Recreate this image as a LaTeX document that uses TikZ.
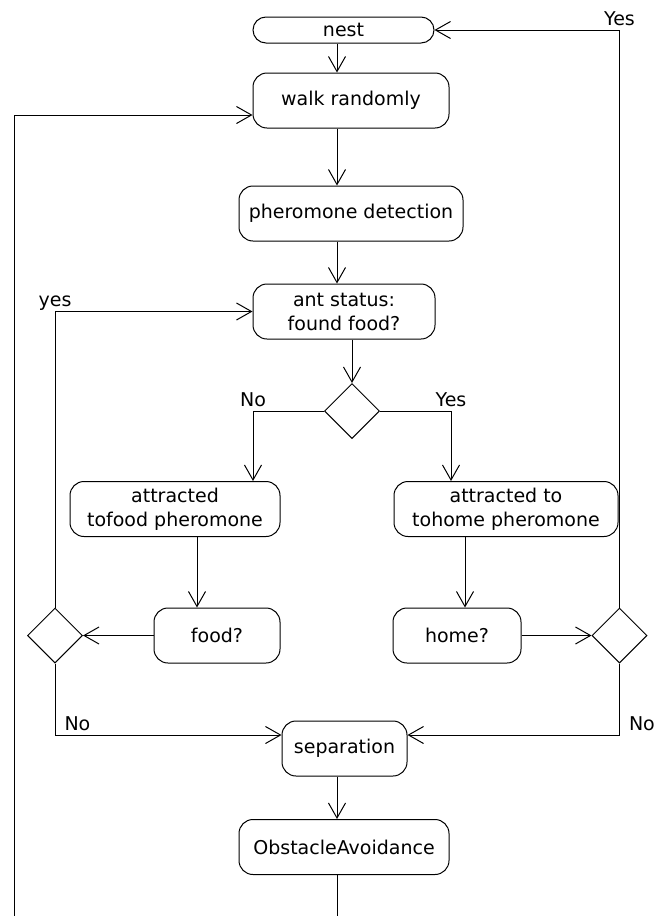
\documentclass[tikz,border=0pt]{standalone}
\usepackage{fontspec}
\setmainfont{DejaVu Sans}
\usetikzlibrary{arrows.meta, shapes.geometric}
\tikzset{
	>={Straight Barb[length=15pt,width=17pt]}, % open v-shaped heads
	act/.style={draw, rounded corners=14pt, minimum height=55pt, inner sep=0pt, align=center, font=\fontsize{19}{24}\selectfont}, % activity boxes
	dec/.style={draw, diamond, minimum width=55pt, minimum height=55pt, inner sep=0pt}, % decision points
	guard/.style={font=\fontsize{19}{22}\selectfont, inner sep=0pt, anchor=base, yshift=5pt}, % labels on the branches
}
\begin{document}
\begin{tikzpicture}[x=1pt, y=-1pt, line width=1pt]
		\useasboundingbox (0,0) rectangle (654,916);

		\node[act, rounded corners=13pt, minimum width=181pt, minimum height=26pt](nest) at (343.5,30){nest};
		\node[act, minimum width=196pt](walk) at (351,100.5){walk randomly};
		\node[act, minimum width=224pt](pher) at (351,213.5){pheromone detection};
		\node[act, minimum width=182pt](ant) at (344,311.5){ant status:\\found food?};
		\node[dec](dtop) at (352,411){};
		\node[act, minimum width=210pt](tofood) at (175,509){attracted\\tofood pheromone};
		\node[act, minimum width=224pt](tohome) at (506,509){attracted to\\tohome pheromone};
		\node[act, minimum width=126pt](food) at (217,635.5){food?};
		\node[act, minimum width=128pt](home) at (457,635.5){home?};
		\node[dec](dleft) at (55,635.5){};
		\node[dec](dright) at (619.5,635.5){};
		\node[act, minimum width=125pt](sep) at (344.5,748.5){separation};
		\node[act, minimum width=210pt](obst) at (344,847){ObstacleAvoidance};

		\coordinate (mid) at (337,0);
		\coordinate (bl) at (14,916);
		\coordinate (bm) at (337,916);

		\foreach \a/\b in {nest/walk, walk/pher, pher/ant, sep/obst}
		{
			\draw[->] (\a.south -| mid) -- (\b.north -| mid);
		}

		\draw[->] (ant.south -| dtop) -- (dtop.north);
		\draw[->] (dtop.west) -| ([xshift=78pt]tofood.north) node[guard, pos=0.5](lno){No};
		\draw[->] (dtop.east) -| ([xshift=-55pt]tohome.north) node[guard, pos=0.5](lyes){Yes};
		\draw[->] ([xshift=22pt]tofood.south) -- ([xshift=-20pt]food.north);
		\draw[->] ([xshift=-41pt]tohome.south) -- ([xshift=8pt]home.north);
		\draw[->] (food.west) -- (dleft.east);
		\draw[->] (home.east) -- (dright.west);
		\draw[->] (dleft.north) |- (ant.west) node[guard, pos=0.5](fyes){yes};
		\draw[->] (dright.north) |- (nest.east) node[guard, pos=0.5](hyes){Yes};
		\draw[->] (dleft.south) |- ([yshift=13.5pt]sep.west) node[guard, anchor=base west, xshift=9pt, pos=0.5](fno){No};
		\draw[->] (dright.south) |- ([yshift=13.5pt]sep.east) node[guard, anchor=base west, xshift=9pt, pos=0.5](hno){No};
		\draw[->] (bl) |- ([yshift=-14.5pt]walk.west);
		\draw (obst.south -| mid) -- (bm);

	\end{tikzpicture}
\end{document}
